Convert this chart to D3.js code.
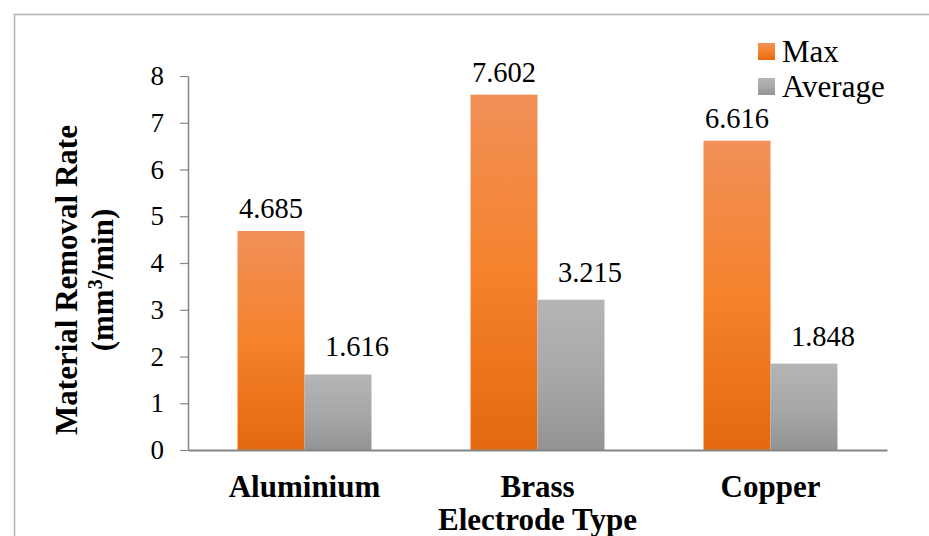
<!DOCTYPE html>
<html><head><meta charset="utf-8">
<script src="https://cdn.jsdelivr.net/npm/d3@7"></script>
<style>html,body{margin:0;padding:0;background:#fff;}svg{display:block;}
svg text{font-family:"Liberation Serif","Times New Roman",Times,serif;}</style>
</head><body>
<script>
const categories = ["Aluminium", "Brass", "Copper"];
const seriesNames = ["Max", "Average"];
const maxValues = [4.685, 7.602, 6.616];
const avgValues = [1.616, 3.215, 1.848];
const yTicks = [0, 1, 2, 3, 4, 5, 6, 7, 8];

const W = 929, H = 536;
const margin = {left: 188, right: 42, top: 76, bottom: 86};
const svg = d3.select("body").append("svg").attr("width", W).attr("height", H);
const defs = svg.append("defs");
function grad(id, stops) {
  const g = defs.append("linearGradient").attr("id", id).attr("x1", 0).attr("y1", 0).attr("x2", 0).attr("y2", 1);
  stops.forEach(([o, c]) => g.append("stop").attr("offset", o).attr("stop-color", c));
}
grad("gOrange", [[0, "#f19058"], [0.5, "#f5822c"], [1, "#e4690f"]]);
grad("gGray", [[0, "#b5b5b5"], [0.5, "#a8a8a8"], [1, "#939393"]]);
const colors = ["url(#gOrange)", "url(#gGray)"];

svg.append("rect").attr("x", 14.5).attr("y", 14.5).attr("width", W).attr("height", H)
  .attr("fill", "none").attr("stroke", "#b3b3b3").attr("stroke-width", 1.5);

const x0 = d3.scaleBand().domain(categories).range([margin.left, W - margin.right]).paddingInner(0.425).paddingOuter(0.2125);
const x1 = d3.scaleBand().domain(seriesNames).range([0, x0.bandwidth()]);
const y = d3.scaleLinear().domain([0, 8]).range([H - margin.bottom, margin.top]);

const fontCss = '"Liberation Serif","Times New Roman",Times,serif';

const yAxis = svg.append("g").attr("transform", `translate(${margin.left},0)`)
  .call(d3.axisLeft(y).tickValues(yTicks).tickSize(8).tickPadding(16).tickSizeOuter(0));
yAxis.attr("font-family", null).attr("font-size", null);
yAxis.select(".domain").attr("stroke", "#868686").attr("stroke-width", 1.5);
yAxis.selectAll(".tick line").attr("stroke", "#868686").attr("stroke-width", 1.2);
yAxis.selectAll(".tick text").style("font-family", fontCss).style("font-size", "27px").attr("fill", "#000");

const data = categories.map((c, i) => ({cat: c, vals: [maxValues[i], avgValues[i]]}));

const groups = svg.selectAll("g.grp").data(data).enter().append("g")
  .attr("transform", d => `translate(${x0(d.cat)},0)`);
groups.selectAll("rect").data(d => d.vals.map((v, j) => ({v, s: seriesNames[j], j})))
  .enter().append("rect")
  .attr("x", d => x1(d.s)).attr("width", x1.bandwidth())
  .attr("y", d => y(d.v)).attr("height", d => y(0) - y(d.v))
  .attr("fill", d => colors[d.j]);
groups.selectAll("text").data(d => d.vals.map((v, j) => ({v, s: seriesNames[j], j})))
  .enter().append("text")
  .attr("x", d => x1(d.s) + x1.bandwidth() / 2 + (d.j === 1 ? 19 : 0))
  .attr("y", d => y(d.v) - (d.j === 1 ? 18 : 13))
  .attr("text-anchor", "middle").style("font-family", fontCss).style("font-size", "28.5px")
  .text(d => d.v.toFixed(3));

const xAxis = svg.append("g").attr("transform", `translate(0,${y(0)})`)
  .call(d3.axisBottom(x0).tickSize(0).tickPadding(25));
xAxis.attr("font-family", null).attr("font-size", null);
xAxis.select(".domain").attr("stroke", "#868686").attr("stroke-width", 2);
xAxis.selectAll(".tick text").style("font-family", fontCss).style("font-size", "31px")
  .style("font-weight", "bold").attr("fill", "#000");

svg.append("text").attr("x", x0("Brass") + x0.bandwidth() / 2).attr("y", 530)
  .attr("text-anchor", "middle").style("font-family", fontCss).style("font-size", "31px")
  .style("font-weight", "bold").text("Electrode Type");

const yt = svg.append("text").attr("transform", "translate(0,280) rotate(-90)")
  .attr("text-anchor", "middle").style("font-family", fontCss).style("font-size", "31px").style("font-weight", "bold");
yt.append("tspan").attr("x", 0).attr("y", 77).text("Material Removal Rate");
const t2 = yt.append("tspan").attr("x", 0).attr("y", 113);
t2.append("tspan").text("(mm");
t2.append("tspan").style("font-size", "20px").attr("dy", -11).text("3");
t2.append("tspan").attr("dy", 11).text("/min)");

const legend = svg.append("g");
seriesNames.forEach((s, i) => {
  const ly = 43 + i * 35;
  legend.append("rect").attr("x", 758).attr("y", ly).attr("width", 17).attr("height", 17).attr("fill", colors[i]);
  legend.append("text").attr("x", 782).attr("y", ly + 19).style("font-family", fontCss).style("font-size", "31px").text(s);
});
</script>
</body></html>
